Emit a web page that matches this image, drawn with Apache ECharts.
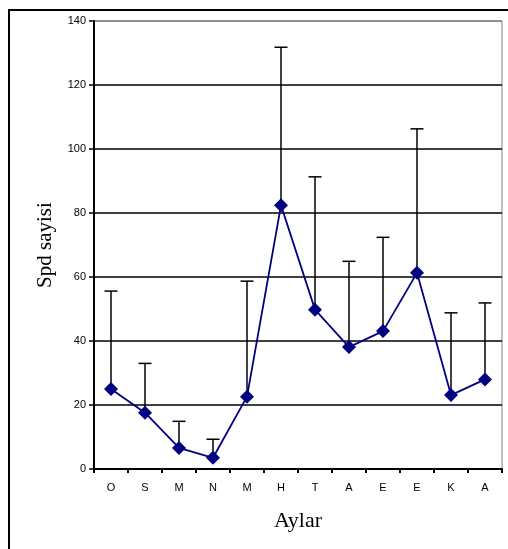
<!DOCTYPE html>
<html>
<head>
<meta charset="utf-8">
<style>html,body{margin:0;padding:0;background:#fff;}#c{width:508px;height:549px;}</style>
<script src="https://cdn.jsdelivr.net/npm/echarts@6/dist/echarts.min.js"></script>
</head>
<body>
<div id="c"></div>
<script>
var categories = ['O','S','M','N','M','H','T','A','E','E','K','A'];
var means = [25, 17.6, 6.6, 3.5, 22.6, 82.4, 49.8, 38.1, 43.1, 61.3, 23.1, 28];
var upper = [55.6, 33, 14.9, 9.3, 58.7, 131.8, 91.3, 64.9, 72.4, 106.3, 48.8, 51.9];
var yTicks = [0, 20, 40, 60, 80, 100, 120, 140];

var errData = categories.map(function (c, i) { return [i, means[i], upper[i]]; });

var chart = echarts.init(document.getElementById('c'));
chart.setOption({
  animation: false,
  backgroundColor: '#fff',
  graphic: [{
    type: 'rect', silent: true, z: -1,
    shape: { x: 9, y: 10, width: 530, height: 580 },
    style: { fill: 'none', stroke: '#000', lineWidth: 2 }
  }],
  grid: { left: 94, right: 6, top: 21, bottom: 80, show: true, borderColor: '#808080', borderWidth: 1, backgroundColor: 'transparent' },
  xAxis: {
    type: 'category', data: categories, boundaryGap: true,
    name: 'Aylar', nameLocation: 'middle', nameGap: 41,
    nameTextStyle: { fontFamily: 'Liberation Serif', fontSize: 22, color: '#000' },
    axisLine: { lineStyle: { color: '#000', width: 2 } },
    axisTick: { show: true, inside: false, length: 4, alignWithLabel: false, lineStyle: { color: '#000', width: 2 } },
    axisLabel: { fontFamily: 'Liberation Sans', fontSize: 11, color: '#000', margin: 13 },
    splitLine: { show: false }
  },
  yAxis: {
    type: 'value', min: 0, max: 140, interval: 20,
    name: 'Spd sayisi', nameLocation: 'middle', nameGap: 38,
    nameTextStyle: { fontFamily: 'Liberation Serif', fontSize: 21, color: '#000' },
    axisLine: { show: true, lineStyle: { color: '#000', width: 2 } },
    axisTick: { show: true, inside: false, length: 5, lineStyle: { color: '#000', width: 1.5 } },
    axisLabel: { fontFamily: 'Liberation Sans', fontSize: 11, color: '#000', margin: 8,
      formatter: function (v) { return yTicks.indexOf(v) >= 0 ? String(v) : ''; } },
    splitLine: { show: true, lineStyle: { color: ['#000','#000','#000','#000','#000','#000','#000','#808080'], width: 1.5 } }
  },
  series: [{
    type: 'custom',
    data: errData,
    z: 2,
    renderItem: function (params, api) {
      var lo = api.coord([api.value(0), api.value(1)]);
      var hi = api.coord([api.value(0), api.value(2)]);
      var cap = 6.5;
      return {
        type: 'group',
        children: [
          { type: 'line', shape: { x1: lo[0], y1: lo[1], x2: hi[0], y2: hi[1] }, style: { stroke: '#000', lineWidth: 1.5 } },
          { type: 'line', shape: { x1: hi[0] - cap, y1: hi[1], x2: hi[0] + cap, y2: hi[1] }, style: { stroke: '#000', lineWidth: 1.5 } }
        ]
      };
    }
  }, {
    type: 'line',
    data: means,
    z: 3,
    symbol: 'diamond',
    symbolSize: 14,
    lineStyle: { color: '#000080', width: 1.8 },
    itemStyle: { color: '#000080' }
  }]
});
</script>
</body>
</html>
